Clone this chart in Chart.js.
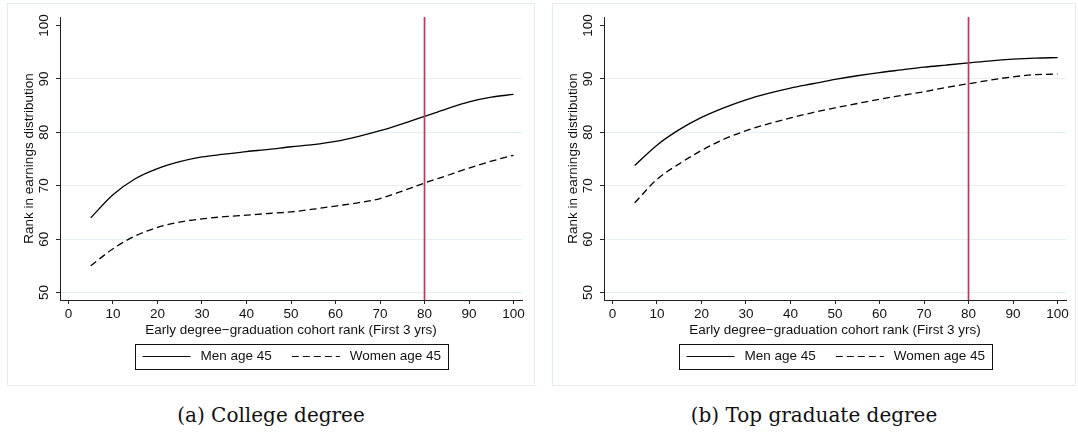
<!DOCTYPE html>
<html>
<head>
<meta charset="utf-8">
<script src="https://cdn.jsdelivr.net/npm/chart.js@4.4.1/dist/chart.umd.min.js"></script>
<style>
  body { margin: 0; background: #fff; width: 1078px; height: 433px; position: relative; overflow: hidden; }
  .panel { position: absolute; top: 3px; height: 383px; border: 1px solid #e3edef; box-sizing: border-box; }
  .wrap { position: absolute; top: 0; height: 390px; }
  .caption { position: absolute; top: 403px; font-family: "DejaVu Serif", serif; font-size: 20px; line-height: 24px;
             color: #111; text-align: center; width: 400px; white-space: nowrap; }
</style>
</head>
<body>
<div class="panel" style="left:7px;width:528px"></div>
<div class="panel" style="left:552px;width:524px"></div>
<div class="wrap" style="left:0;width:540px"><canvas id="chartCollege" width="540" height="390"></canvas></div>
<div class="wrap" style="left:544px;width:534px"><canvas id="chartGraduate" width="534" height="390"></canvas></div>
<div class="caption" style="left:71px">(a) College degree</div>
<div class="caption" style="left:614px">(b) Top graduate degree</div>

<script>
// values
const cohortRank = [5, 10, 15, 20, 25, 30, 35, 40, 45, 50, 55, 60, 65, 70, 75, 80, 85, 90, 95, 100];
const menCollege = [64.0, 68.3, 71.3, 73.2, 74.5, 75.4, 75.9, 76.4, 76.8, 77.3, 77.7, 78.3, 79.2, 80.3, 81.6, 83.0, 84.4, 85.7, 86.6, 87.1];
const womenCollege = [55.0, 58.2, 60.6, 62.2, 63.2, 63.8, 64.2, 64.5, 64.8, 65.1, 65.6, 66.2, 66.8, 67.6, 69.0, 70.5, 71.9, 73.3, 74.6, 75.7];
const menGraduate = [73.8, 77.6, 80.5, 82.8, 84.6, 86.1, 87.3, 88.3, 89.1, 89.9, 90.6, 91.2, 91.7, 92.2, 92.6, 93.0, 93.4, 93.7, 93.9, 94.0];
const womenGraduate = [66.8, 71.2, 74.1, 76.6, 78.7, 80.3, 81.6, 82.7, 83.7, 84.6, 85.4, 86.2, 86.9, 87.6, 88.4, 89.1, 89.8, 90.4, 90.8, 90.9];
const xTicks = [0, 10, 20, 30, 40, 50, 60, 70, 80, 90, 100];
const yTicks = [50, 60, 70, 80, 90, 100];
const seriesLabels = ["Men age 45", "Women age 45"];
const cutoffRank = 80;

const axisColor = "#222";
const gridColor = "#e6eff1";
const fontFamily = '"Liberation Sans", Arial, sans-serif';
const fontSize = 13.5;

Chart.defaults.font.family = fontFamily;
Chart.defaults.font.size = fontSize;
Chart.defaults.color = "#111";

// red cutoff line, rotated y tick labels and the boxed legend
const stataExtras = {
  id: "stataExtras",
  afterDatasetsDraw(chart) {
    const ctx = chart.ctx;
    const area = chart.chartArea;
    const xPix = chart.scales.x.getPixelForValue(cutoffRank);
    ctx.save();
    ctx.strokeStyle = "#c93360";
    ctx.lineWidth = 1.7;
    ctx.beginPath();
    ctx.moveTo(xPix, area.top);
    ctx.lineTo(xPix, area.bottom);
    ctx.stroke();
    ctx.restore();
  },
  afterDraw(chart) {
    const ctx = chart.ctx;
    const area = chart.chartArea;
    const yScale = chart.scales.y;
    ctx.save();
    ctx.fillStyle = "#111";
    ctx.font = fontSize + "px " + fontFamily;
    ctx.textAlign = "center";
    ctx.textBaseline = "middle";
    for (let v of yTicks) {
      ctx.save();
      ctx.translate(area.left - 16, yScale.getPixelForValue(v));
      ctx.rotate(-Math.PI / 2);
      ctx.fillText(String(v), 0, 0);
      ctx.restore();
    }

    // legend
    const lineLen = 48, gap = 10, itemGap = 20, padX = 7;
    const sets = chart.data.datasets;
    const widths = sets.map((ds) => ctx.measureText(ds.label).width);
    let total = padX * 2 + itemGap * (sets.length - 1);
    widths.forEach((w) => { total += lineLen + gap + w; });
    const cy = area.bottom + 56.5;
    let x = Math.round((area.left + area.right) / 2 - total / 2) + 0.5;
    ctx.strokeStyle = "#111";
    ctx.lineWidth = 1;
    ctx.strokeRect(x, Math.round(cy - 12.5) + 0.5, Math.round(total), 25);
    x += padX;
    ctx.textAlign = "left";
    sets.forEach((ds, i) => {
      ctx.setLineDash(ds.borderDash || []);
      ctx.lineWidth = 1.2;
      ctx.beginPath();
      ctx.moveTo(x, cy);
      ctx.lineTo(x + lineLen, cy);
      ctx.stroke();
      ctx.setLineDash([]);
      ctx.fillText(ds.label, x + lineLen + gap, cy);
      x += lineLen + gap + widths[i] + itemGap;
    });
    ctx.restore();
  }
};

function makePanel(canvasId, menData, womenData, padRight) {
  const toPoints = (vals) => cohortRank.map((r, i) => ({ x: r, y: vals[i] }));
  const ctx = document.getElementById(canvasId).getContext("2d");
  return new Chart(ctx, {
    type: "line",
    data: {
      datasets: [
        {
          label: seriesLabels[0],
          data: toPoints(menData),
          borderColor: "#000",
          borderWidth: 1.3,
          pointRadius: 0,
          cubicInterpolationMode: "monotone",
          fill: false,
        },
        {
          label: seriesLabels[1],
          data: toPoints(womenData),
          borderColor: "#000",
          borderWidth: 1.3,
          borderDash: [7, 4],
          pointRadius: 0,
          cubicInterpolationMode: "monotone",
          fill: false,
        },
      ],
    },
    options: {
      responsive: false,
      animation: false,
      layout: { padding: { top: 17, right: padRight, bottom: 48, left: 0 } },
      plugins: { legend: { display: false }, tooltip: { enabled: false } },
      scales: {
        x: {
          type: "linear",
          min: -1.9,
          max: 101.9,
          afterBuildTicks: (s) => { s.ticks = xTicks.map((v) => ({ value: v })); },
          afterFit: (s) => { s.height = 42; },
          ticks: { autoSkip: false, maxRotation: 0, padding: 2, color: "#111" },
          grid: { drawOnChartArea: false, tickLength: 4, tickColor: axisColor },
          border: { color: axisColor, width: 1 },
          title: {
            display: true,
            text: "Early degree\u2212graduation cohort rank (First 3 yrs)",
            color: "#111",
            padding: { top: 0, bottom: 4 },
          },
        },
        y: {
          type: "linear",
          min: 48.6,
          max: 101.6,
          afterBuildTicks: (s) => { s.ticks = yTicks.map((v) => ({ value: v })); },
          afterFit: (s) => { s.width = 60; },
          ticks: { display: false },
          grid: {
            color: (c) => (c.tick && c.tick.value === 100 ? "rgba(0,0,0,0)" : gridColor),
            tickLength: 4,
            tickColor: axisColor,
          },
          border: { color: axisColor, width: 1 },
          title: {
            display: true,
            text: "Rank in earnings distribution",
            color: "#111",
            padding: { top: 21, bottom: 0 },
          },
        },
      },
    },
    plugins: [stataExtras],
  });
}

makePanel("chartCollege", menCollege, womenCollege, 18);
makePanel("chartGraduate", menGraduate, womenGraduate, 12);
</script>
</body>
</html>
